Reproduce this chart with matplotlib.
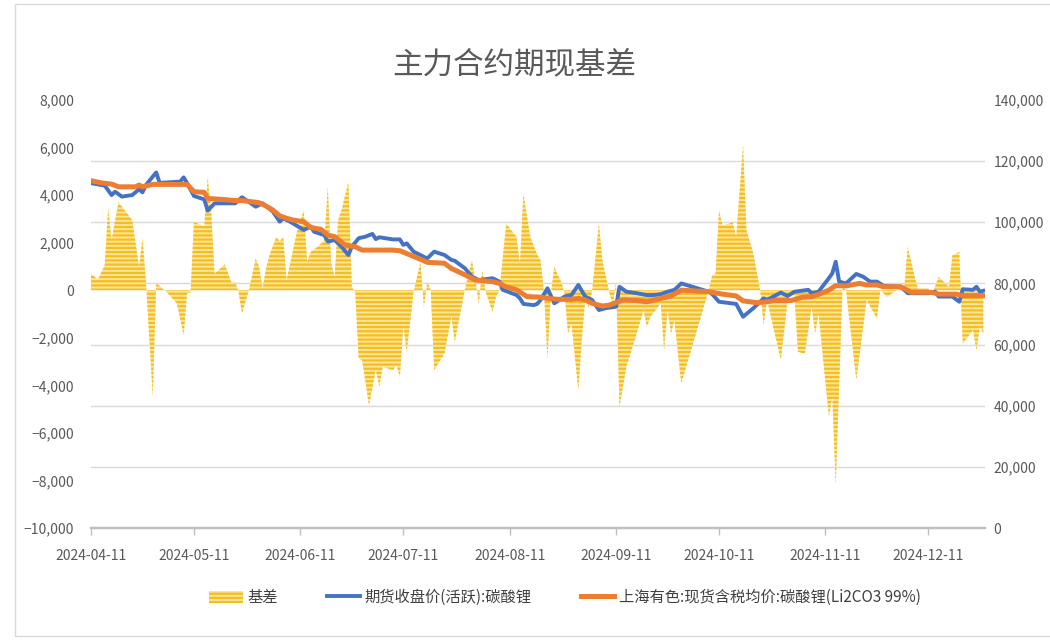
import matplotlib.pyplot as plt
import matplotlib.ticker as mticker
import numpy as np
import pandas as pd
from matplotlib.patches import Rectangle

plt.rcParams['font.family'] = ['Noto Sans CJK SC', 'DejaVu Sans']
plt.rcParams['hatch.linewidth'] = 1.6

# 基差 (现货 - 期货), 元/吨
basis_dates = ['2024-04-11', '2024-04-13', '2024-04-15', '2024-04-16', '2024-04-17', '2024-04-19',
               '2024-04-23', '2024-04-25', '2024-04-26', '2024-04-27', '2024-04-29', '2024-04-30',
               '2024-05-03', '2024-05-06', '2024-05-08', '2024-05-09', '2024-05-10', '2024-05-11',
               '2024-05-14', '2024-05-15', '2024-05-16', '2024-05-17', '2024-05-20', '2024-05-22',
               '2024-05-23', '2024-05-24', '2024-05-25', '2024-05-27', '2024-05-29', '2024-05-30',
               '2024-05-31', '2024-06-01', '2024-06-02', '2024-06-04', '2024-06-05', '2024-06-06',
               '2024-06-07', '2024-06-10', '2024-06-12', '2024-06-13', '2024-06-14', '2024-06-16',
               '2024-06-18', '2024-06-19', '2024-06-20', '2024-06-21', '2024-06-22', '2024-06-23',
               '2024-06-25', '2024-06-26', '2024-06-27', '2024-06-28', '2024-06-29', '2024-07-01',
               '2024-07-03', '2024-07-04', '2024-07-05', '2024-07-08', '2024-07-09', '2024-07-10',
               '2024-07-11', '2024-07-12', '2024-07-14', '2024-07-16', '2024-07-17', '2024-07-18',
               '2024-07-19', '2024-07-20', '2024-07-23', '2024-07-25', '2024-07-26', '2024-07-29',
               '2024-07-31', '2024-08-01', '2024-08-02', '2024-08-03', '2024-08-04', '2024-08-06',
               '2024-08-07', '2024-08-08', '2024-08-10', '2024-08-13', '2024-08-14', '2024-08-15',
               '2024-08-17', '2024-08-19', '2024-08-20', '2024-08-21', '2024-08-22', '2024-08-23',
               '2024-08-24', '2024-08-26', '2024-08-27', '2024-08-28', '2024-08-29', '2024-08-31',
               '2024-09-01', '2024-09-02', '2024-09-03', '2024-09-04', '2024-09-06', '2024-09-07',
               '2024-09-09', '2024-09-10', '2024-09-11', '2024-09-12', '2024-09-14', '2024-09-17',
               '2024-09-19', '2024-09-20', '2024-09-21', '2024-09-24', '2024-09-25', '2024-09-26',
               '2024-09-27', '2024-09-28', '2024-09-30', '2024-10-08', '2024-10-09', '2024-10-10',
               '2024-10-11', '2024-10-12', '2024-10-14', '2024-10-15', '2024-10-16', '2024-10-18',
               '2024-10-19', '2024-10-21', '2024-10-23', '2024-10-24', '2024-10-25', '2024-10-29',
               '2024-10-31', '2024-11-01', '2024-11-02', '2024-11-03', '2024-11-05', '2024-11-07',
               '2024-11-08', '2024-11-09', '2024-11-12', '2024-11-13', '2024-11-14', '2024-11-16',
               '2024-11-17', '2024-11-20', '2024-11-23', '2024-11-26', '2024-11-27', '2024-11-29',
               '2024-12-01', '2024-12-04', '2024-12-05', '2024-12-07', '2024-12-08', '2024-12-11',
               '2024-12-12', '2024-12-14', '2024-12-17', '2024-12-18', '2024-12-20', '2024-12-21',
               '2024-12-24', '2024-12-25', '2024-12-26', '2024-12-27']
basis = [700, 450, 1050, 3450, 2100, 3700,
         2950, 980, 2180, 400, -4480, 300,
         -70, -550, -1890, -130, -100, 2870,
         2690, 4760, 3360, 700, 1090, 290,
         340, -70, -980, 0, 1330, 980,
         70, 910, 1470, 2240, 2050, 2240,
         420, 2450, 3360, 1190, 1610, 1820,
         2100, 4340, 1120, 560, 2940, 3360,
         4550, 140, -70, -2870, -2940, -4840,
         -3360, -4060, -3220, -3360, -3150, -3640,
         -1540, -2590, -70, 1190, -700, 350,
         0, -3360, -2660, -1120, -2170, 70,
         1260, 420, -560, 840, -70, -910,
         -280, 0, 2800, 2240, 1120, 4060,
         2240, 1500, 1260, -70, -2870, -140,
         980, 350, -140, -1820, -1400, -4200,
         -2100, -410, -700, -70, 2800, 1260,
         -70, -630, 350, -4900, -3220, -1820,
         -840, -1540, -1120, -560, -2520, -840,
         -1820, -1260, -3920, 0, 630, 700,
         3360, 2730, 2800, 2870, 2240, 6100,
         2520, 1540, 0, -1470, -410, -2940,
         -410, -70, -280, -2590, -2660, -700,
         -1820, -980, -5300, -4480, -8190, 140,
         0, -3780, -410, -1190, 0, -280,
         -70, 140, 1820, 560, 70, 70,
         -210, 560, 140, 1470, 1610, -2240,
         -1680, -2520, -1540, -1820]

# 期货收盘价(活跃):碳酸锂
fut_dates = ['2024-04-11', '2024-04-15', '2024-04-17', '2024-04-18', '2024-04-20', '2024-04-23',
             '2024-04-25', '2024-04-26', '2024-04-27', '2024-04-30', '2024-05-01', '2024-05-07',
             '2024-05-08', '2024-05-09', '2024-05-11', '2024-05-14', '2024-05-15', '2024-05-17',
             '2024-05-23', '2024-05-25', '2024-05-29', '2024-05-31', '2024-06-03', '2024-06-05',
             '2024-06-06', '2024-06-08', '2024-06-12', '2024-06-14', '2024-06-15', '2024-06-18',
             '2024-06-19', '2024-06-21', '2024-06-23', '2024-06-25', '2024-06-26', '2024-06-28',
             '2024-06-30', '2024-07-02', '2024-07-03', '2024-07-04', '2024-07-08', '2024-07-10',
             '2024-07-11', '2024-07-12', '2024-07-14', '2024-07-17', '2024-07-18', '2024-07-20',
             '2024-07-23', '2024-07-25', '2024-07-26', '2024-07-29', '2024-07-31', '2024-08-02',
             '2024-08-06', '2024-08-08', '2024-08-09', '2024-08-13', '2024-08-14', '2024-08-15',
             '2024-08-18', '2024-08-19', '2024-08-20', '2024-08-22', '2024-08-24', '2024-08-27',
             '2024-08-29', '2024-08-31', '2024-09-02', '2024-09-04', '2024-09-06', '2024-09-08',
             '2024-09-11', '2024-09-12', '2024-09-14', '2024-09-17', '2024-09-20', '2024-09-22',
             '2024-09-24', '2024-09-26', '2024-09-28', '2024-09-30', '2024-10-08', '2024-10-09',
             '2024-10-11', '2024-10-16', '2024-10-18', '2024-10-21', '2024-10-24', '2024-10-25',
             '2024-10-29', '2024-10-31', '2024-11-02', '2024-11-06', '2024-11-07', '2024-11-09',
             '2024-11-12', '2024-11-13', '2024-11-14', '2024-11-15', '2024-11-17', '2024-11-20',
             '2024-11-22', '2024-11-24', '2024-11-26', '2024-11-28', '2024-12-03', '2024-12-05',
             '2024-12-11', '2024-12-13', '2024-12-14', '2024-12-18', '2024-12-20', '2024-12-21',
             '2024-12-24', '2024-12-25', '2024-12-26', '2024-12-27']
fut_close = [112800, 112000, 108900, 110000, 108400, 108900,
             110800, 109800, 112200, 116300, 112900, 113300,
             114700, 112800, 108600, 107500, 103800, 106200,
             106200, 108200, 105100, 106200, 103500, 100200,
             101300, 100200, 97500, 98600, 96900, 95800,
             93700, 94200, 92000, 89300, 92000, 94800,
             95300, 96200, 94500, 95100, 94400, 94400,
             92600, 93100, 90400, 88700, 88200, 90400,
             89300, 87700, 87400, 84900, 82200, 81100,
             81700, 80600, 77900, 76200, 75100, 73300,
             72900, 73300, 74600, 78400, 73500, 75700,
             76200, 79500, 75700, 74600, 71300, 71900,
             72400, 78900, 77300, 76800, 76200, 76200,
             76500, 77300, 77900, 80000, 77300, 76500,
             74000, 73300, 69100, 71900, 75100, 74600,
             77000, 75900, 77300, 77900, 76800, 77300,
             81700, 83300, 87100, 80600, 80000, 83100,
             82200, 80600, 80600, 79200, 78900, 76800,
             76800, 77300, 75700, 75700, 74000, 78100,
             77900, 78900, 77300, 77600]

# 上海有色:现货含税均价:碳酸锂(Li2CO3 99%)
spot_dates = ['2024-04-11', '2024-04-14', '2024-04-17', '2024-04-19', '2024-04-24', '2024-04-25',
              '2024-04-26', '2024-04-29', '2024-05-09', '2024-05-11', '2024-05-14', '2024-05-15',
              '2024-05-19', '2024-05-23', '2024-05-25', '2024-05-28', '2024-05-30', '2024-06-01',
              '2024-06-03', '2024-06-05', '2024-06-07', '2024-06-09', '2024-06-12', '2024-06-14',
              '2024-06-17', '2024-06-19', '2024-06-21', '2024-06-24', '2024-06-27', '2024-06-29',
              '2024-07-08', '2024-07-10', '2024-07-13', '2024-07-16', '2024-07-18', '2024-07-23',
              '2024-07-25', '2024-07-29', '2024-08-01', '2024-08-06', '2024-08-08', '2024-08-10',
              '2024-08-13', '2024-08-16', '2024-08-20', '2024-08-22', '2024-08-25', '2024-08-29',
              '2024-08-31', '2024-09-02', '2024-09-04', '2024-09-07', '2024-09-09', '2024-09-13',
              '2024-09-17', '2024-09-20', '2024-09-23', '2024-09-27', '2024-09-30', '2024-10-08',
              '2024-10-12', '2024-10-16', '2024-10-18', '2024-10-22', '2024-10-25', '2024-10-27',
              '2024-11-01', '2024-11-04', '2024-11-07', '2024-11-09', '2024-11-12', '2024-11-14',
              '2024-11-17', '2024-11-21', '2024-11-23', '2024-11-26', '2024-11-28', '2024-12-03',
              '2024-12-06', '2024-12-12', '2024-12-14', '2024-12-19', '2024-12-21', '2024-12-27']
spot_price = [113600, 112900, 112500, 111600, 111600, 112200,
              111600, 112400, 112400, 110000, 109800, 107800,
              107500, 107100, 107100, 106700, 106400, 105300,
              104000, 102100, 101300, 100700, 100200, 98300,
              97700, 95800, 95300, 92600, 92000, 90900,
              90900, 90700, 89300, 87900, 86900, 86600,
              84900, 82800, 81100, 80600, 80000, 78900,
              77900, 75700, 75500, 75100, 74800, 74800,
              75100, 74600, 73500, 72600, 72900, 74600,
              74400, 74000, 74800, 75900, 77800, 77300,
              76500, 75900, 74300, 73700, 74000, 74400,
              74400, 75400, 75700, 76400, 77800, 79300,
              79200, 80000, 79500, 79500, 78900, 78900,
              77100, 77100, 76500, 76500, 76000, 76000]

tick_dates = ['2024-04-11', '2024-05-11', '2024-06-11', '2024-07-11', '2024-08-11',
              '2024-09-11', '2024-10-11', '2024-11-11', '2024-12-11']

grey = '#595959'

fig = plt.figure(figsize=(10.5, 6.4), dpi=100)
ax = fig.add_axes([91 / 1050, 112 / 640, 894 / 1050, 428 / 640])
ax2 = ax.twinx()

area = ax.fill_between(pd.to_datetime(basis_dates), basis, 0, facecolor='#FBE49C',
                       edgecolor='#F4BE1E', hatch='----', linewidth=0, label='基差', zorder=2)
l1, = ax2.plot(pd.to_datetime(fut_dates), fut_close, color='#4472C4', lw=2.8,
               solid_joinstyle='round', label='期货收盘价(活跃):碳酸锂')
l2, = ax2.plot(pd.to_datetime(spot_dates), spot_price, color='#ED7D31', lw=3.6,
               solid_joinstyle='round', label='上海有色:现货含税均价:碳酸锂(Li2CO3 99%)')

ax.set_xlim(pd.Timestamp('2024-04-11'), pd.Timestamp('2024-12-27 12:00'))
ax.set_ylim(-10000, 8000)
ax.set_yticks(np.arange(-10000, 8001, 2000))
ax2.set_ylim(0, 140000)
ax2.set_yticks(np.arange(0, 140001, 20000))
ax.yaxis.set_major_formatter(mticker.StrMethodFormatter('{x:,.0f}'))
ax2.yaxis.set_major_formatter(mticker.StrMethodFormatter('{x:,.0f}'))

# gridlines follow the secondary axis, drawn behind the area
ax.yaxis.set_minor_locator(mticker.FixedLocator(np.linspace(-10000, 8000, 8)[1:]))
ax.grid(which='minor', axis='y', color='#D9D9D9', lw=1.0, zorder=0)
ax.set_axisbelow(True)

ax.set_xticks(pd.to_datetime(tick_dates))
ax.set_xticklabels(tick_dates)

for a in (ax, ax2):
    for s in ('top', 'left', 'right'):
        a.spines[s].set_visible(False)
    a.spines['bottom'].set_color('#BFBFBF')
    a.spines['bottom'].set_linewidth(1.6)
ax.tick_params(axis='y', which='both', length=0, pad=12, labelsize=10, labelcolor=grey)
ax2.tick_params(axis='y', length=0, pad=6, labelsize=10, labelcolor=grey)
ax.tick_params(axis='x', direction='out', length=5, width=1, color='#BFBFBF',
               pad=10, labelsize=10, labelcolor=grey)

fig.text(0.49, 0.898, '主力合约期现基差', ha='center', va='center', fontsize=22, color=grey)

fig.legend([area, l1, l2], [area.get_label(), l1.get_label(), l2.get_label()],
           loc='center', bbox_to_anchor=(0.538, 0.066), ncol=3, frameon=False,
           fontsize=11, handlelength=2.2, handleheight=0.9, handletextpad=0.3,
           columnspacing=3.2, labelcolor='#404040')

fig.patches.append(Rectangle((15 / 1050, 4 / 640), 1.2, 632 / 640, transform=fig.transFigure,
                             fill=False, edgecolor='#D9D9D9', lw=1))

fig.savefig('out.png', dpi=100)
